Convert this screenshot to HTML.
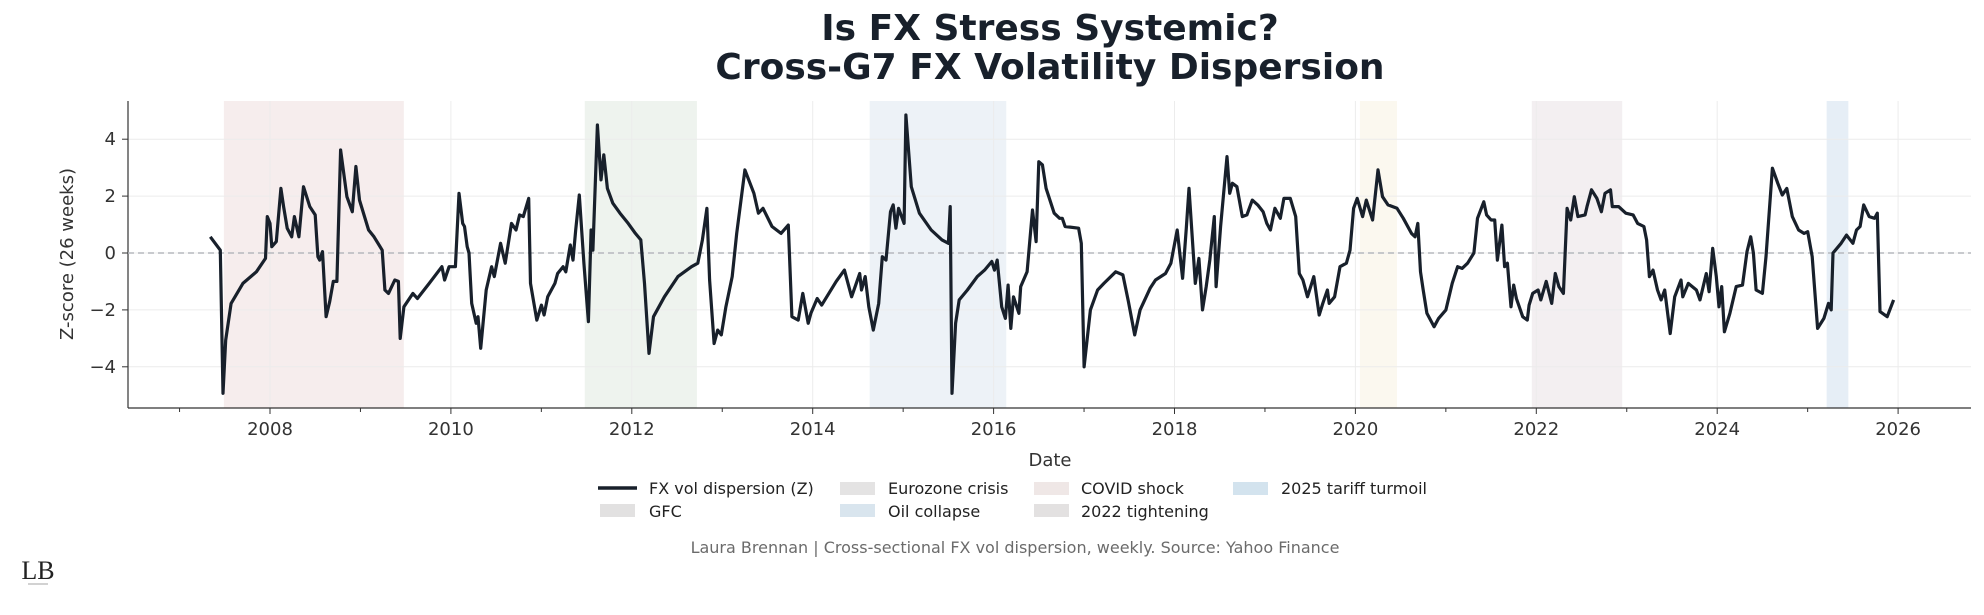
<!DOCTYPE html>
<html><head><meta charset="utf-8">
<style>
html,body{margin:0;padding:0;background:#fff;}
body{width:1984px;height:610px;overflow:hidden;font-family:"Liberation Sans","DejaVu Sans",sans-serif;}
svg text{font-family:"DejaVu Sans","Liberation Sans",sans-serif;}
</style></head>
<body>
<svg id="chart" width="1984" height="610" viewBox="0 0 1984 610">
<text x="1050" y="40" text-anchor="middle" font-size="36" font-weight="bold" fill="#18202b">Is FX Stress Systemic?</text>
<text x="1050" y="79" text-anchor="middle" font-size="36" font-weight="bold" fill="#18202b">Cross-G7 FX Volatility Dispersion</text>
<g id="bands"></g>
<g id="grid"></g>
<g id="axes"></g>
<line x1="128" x2="1971" y1="253" y2="253" stroke="#b5b8bd" stroke-width="1.5" stroke-dasharray="6,4"/>
<path id="series" fill="none" stroke="#18202b" stroke-width="3.2" stroke-linejoin="round"/>
<text transform="translate(73,254) rotate(-90)" text-anchor="middle" font-size="18" fill="#333">Z-score (26 weeks)</text>
<text x="1050" y="466" text-anchor="middle" font-size="18" fill="#333">Date</text>
<g font-size="16" fill="#222">
<line x1="598" x2="637" y1="488" y2="488" stroke="#18202b" stroke-width="3.5"/>
<text x="649" y="494">FX vol dispersion (Z)</text>
<rect x="600" y="504" width="35" height="13" fill="#e2e1e1"/>
<text x="649" y="517">GFC</text>
<rect x="840" y="482" width="35" height="13" fill="#e4e3e3"/>
<text x="888" y="494">Eurozone crisis</text>
<rect x="840" y="504" width="35" height="13" fill="#d9e5ee"/>
<text x="888" y="517">Oil collapse</text>
<rect x="1034" y="482" width="35" height="13" fill="#efe7e6"/>
<text x="1081" y="494">COVID shock</text>
<rect x="1034" y="504" width="35" height="13" fill="#e3e1e1"/>
<text x="1081" y="517">2022 tightening</text>
<rect x="1233" y="482" width="35" height="13" fill="#d3e3ee"/>
<text x="1281" y="494">2025 tariff turmoil</text>
</g>
<text x="1015" y="553" text-anchor="middle" font-size="16" fill="#6b6b6b">Laura Brennan | Cross-sectional FX vol dispersion, weekly. Source: Yahoo Finance</text>
<text x="38" y="579" text-anchor="middle" font-size="26" fill="#222" style="font-family:'Liberation Serif',serif">LB</text>
<line x1="28" x2="48" y1="584" y2="584" stroke="#888" stroke-width="0.8"/>
</svg>
<script>
const bandNames=["GFC","Eurozone crisis","Oil collapse","COVID shock","2022 tightening","2025 tariff turmoil"];
const bandStart=[2007.49,2011.48,2014.63,2020.05,2021.95,2025.21];
const bandEnd=[2009.48,2012.72,2016.14,2020.46,2022.95,2025.45];
const bandColors=["#f6eded","#eef3ee","#edf2f7","#fbf8ef","#f3eff1","#e6eef6"];
const yTicks=[-4,-2,0,2,4];
const xTickYears=[2008,2010,2012,2014,2016,2018,2020,2022,2024,2026];
const dates=[2007.34,2007.45,2007.48,2007.51,2007.57,2007.7,2007.85,2007.95,2007.97,2008.0,2008.02,2008.07,2008.12,2008.15,2008.19,2008.24,2008.27,2008.32,2008.37,2008.44,2008.5,2008.53,2008.55,2008.58,2008.62,2008.66,2008.7,2008.74,2008.78,2008.85,2008.91,2008.95,2008.99,2009.09,2009.15,2009.24,2009.27,2009.31,2009.38,2009.42,2009.44,2009.48,2009.58,2009.63,2009.76,2009.9,2009.93,2009.98,2010.05,2010.09,2010.13,2010.15,2010.18,2010.2,2010.23,2010.28,2010.3,2010.33,2010.39,2010.45,2010.48,2010.55,2010.6,2010.67,2010.72,2010.76,2010.8,2010.86,2010.88,2010.95,2011.0,2011.03,2011.07,2011.15,2011.18,2011.24,2011.27,2011.32,2011.35,2011.38,2011.42,2011.47,2011.52,2011.55,2011.57,2011.62,2011.66,2011.69,2011.73,2011.79,2011.87,2011.96,2012.04,2012.1,2012.14,2012.19,2012.24,2012.36,2012.51,2012.66,2012.73,2012.78,2012.83,2012.86,2012.91,2012.95,2012.99,2013.04,2013.11,2013.16,2013.25,2013.35,2013.4,2013.45,2013.55,2013.65,2013.73,2013.77,2013.84,2013.89,2013.95,2013.98,2014.05,2014.1,2014.26,2014.35,2014.43,2014.52,2014.54,2014.58,2014.62,2014.67,2014.73,2014.77,2014.81,2014.86,2014.89,2014.92,2014.95,2015.01,2015.03,2015.09,2015.18,2015.31,2015.43,2015.5,2015.52,2015.54,2015.58,2015.62,2015.71,2015.82,2015.9,2015.98,2016.01,2016.04,2016.09,2016.13,2016.16,2016.19,2016.22,2016.28,2016.3,2016.37,2016.43,2016.47,2016.5,2016.54,2016.58,2016.67,2016.73,2016.76,2016.79,2016.94,2016.97,2017.0,2017.07,2017.15,2017.22,2017.35,2017.43,2017.49,2017.56,2017.62,2017.73,2017.79,2017.9,2017.96,2018.03,2018.09,2018.13,2018.16,2018.23,2018.27,2018.31,2018.35,2018.39,2018.44,2018.46,2018.51,2018.58,2018.61,2018.64,2018.69,2018.75,2018.8,2018.86,2018.92,2018.98,2019.02,2019.06,2019.11,2019.17,2019.21,2019.28,2019.34,2019.38,2019.42,2019.47,2019.54,2019.6,2019.64,2019.69,2019.71,2019.77,2019.83,2019.9,2019.94,2019.98,2020.02,2020.08,2020.12,2020.19,2020.25,2020.3,2020.36,2020.46,2020.53,2020.62,2020.66,2020.69,2020.72,2020.75,2020.79,2020.87,2020.92,2021.0,2021.07,2021.13,2021.18,2021.24,2021.31,2021.35,2021.42,2021.45,2021.5,2021.54,2021.57,2021.62,2021.65,2021.68,2021.72,2021.75,2021.78,2021.85,2021.9,2021.92,2021.96,2022.02,2022.05,2022.11,2022.17,2022.21,2022.25,2022.3,2022.34,2022.38,2022.42,2022.46,2022.54,2022.56,2022.61,2022.67,2022.72,2022.76,2022.82,2022.84,2022.91,2022.99,2023.07,2023.12,2023.19,2023.22,2023.25,2023.29,2023.34,2023.38,2023.42,2023.48,2023.53,2023.6,2023.62,2023.68,2023.77,2023.81,2023.88,2023.91,2023.95,2023.99,2024.02,2024.05,2024.08,2024.14,2024.21,2024.28,2024.33,2024.37,2024.4,2024.43,2024.5,2024.54,2024.61,2024.67,2024.72,2024.77,2024.83,2024.9,2024.96,2025.0,2025.05,2025.11,2025.18,2025.23,2025.26,2025.28,2025.37,2025.43,2025.5,2025.54,2025.58,2025.62,2025.68,2025.74,2025.77,2025.8,2025.88,2025.95];
const values=[0.57,0.1,-4.93,-3.06,-1.77,-1.07,-0.66,-0.19,1.28,1.04,0.22,0.4,2.27,1.63,0.87,0.57,1.28,0.57,2.33,1.63,1.34,-0.13,-0.25,0.05,-2.24,-1.71,-1.0,-1.0,3.62,1.98,1.45,3.04,1.86,0.81,0.57,0.1,-1.3,-1.42,-0.95,-1.0,-3.0,-1.89,-1.42,-1.6,-1.07,-0.48,-0.95,-0.48,-0.48,2.1,1.04,0.93,0.22,0,-1.77,-2.47,-2.24,-3.35,-1.3,-0.48,-0.83,0.34,-0.36,1.04,0.81,1.34,1.28,1.92,-1.07,-2.36,-1.83,-2.18,-1.54,-1.07,-0.72,-0.48,-0.66,0.28,-0.25,0.81,2.04,-0.36,-2.41,0.81,0.1,4.5,2.57,3.45,2.27,1.75,1.4,1.04,0.69,0.46,-1.07,-3.53,-2.24,-1.54,-0.83,-0.48,-0.36,0.46,1.57,-0.95,-3.18,-2.71,-2.88,-1.89,-0.83,0.69,2.92,2.1,1.4,1.57,0.93,0.69,0.98,-2.24,-2.36,-1.42,-2.47,-2.12,-1.6,-1.83,-1.0,-0.6,-1.54,-0.72,-1.3,-0.83,-1.89,-2.71,-1.77,-0.13,-0.25,1.45,1.69,0.87,1.57,1.04,4.85,2.33,1.4,0.81,0.46,0.34,1.63,-4.93,-2.47,-1.65,-1.3,-0.83,-0.6,-0.3,-0.6,-0.25,-1.89,-2.3,-1.13,-2.65,-1.54,-2.12,-1.18,-0.66,1.51,0.4,3.21,3.1,2.27,1.4,1.22,1.22,0.93,0.87,0.34,-4.0,-2.0,-1.3,-1.07,-0.66,-0.77,-1.71,-2.88,-2.0,-1.24,-0.95,-0.72,-0.36,0.81,-0.89,0.87,2.27,-1.07,-0.19,-2.0,-1.18,-0.25,1.28,-1.18,0.93,3.39,2.1,2.45,2.33,1.28,1.34,1.86,1.69,1.45,1.04,0.81,1.57,1.22,1.92,1.92,1.28,-0.72,-0.95,-1.54,-0.83,-2.18,-1.77,-1.3,-1.77,-1.54,-0.48,-0.36,0.1,1.57,1.92,1.28,1.86,1.16,2.92,1.98,1.69,1.57,1.22,0.69,0.57,1.04,-0.66,-1.3,-2.12,-2.59,-2.3,-2.0,-1.07,-0.48,-0.54,-0.36,0,1.22,1.8,1.34,1.16,1.16,-0.25,0.98,-0.48,-0.36,-1.89,-1.13,-1.6,-2.24,-2.36,-1.83,-1.42,-1.3,-1.65,-1.0,-1.77,-0.72,-1.18,-1.42,1.57,1.16,1.98,1.28,1.34,1.63,2.22,1.92,1.45,2.1,2.22,1.63,1.63,1.4,1.34,1.04,0.93,0.46,-0.83,-0.6,-1.3,-1.65,-1.3,-2.83,-1.54,-0.95,-1.54,-1.07,-1.3,-1.65,-0.72,-1.36,0.16,-0.83,-1.89,-1.18,-2.77,-2.12,-1.18,-1.13,0.05,0.57,0,-1.3,-1.42,-0.13,2.98,2.45,2.04,2.27,1.28,0.81,0.69,0.75,-0.13,-2.65,-2.3,-1.77,-2.0,0,0.34,0.63,0.34,0.81,0.93,1.69,1.28,1.22,1.4,-2.06,-2.24,-1.65];

const L=128,R=1971,T=101,B=408;
function xs(yr){return 270+(yr-2008)*90.45;}
function ys(v){return 253-28.45*v;}
const NS="http://www.w3.org/2000/svg";
function mk(tag,attrs,parent){const e=document.createElementNS(NS,tag);for(const k in attrs)e.setAttribute(k,attrs[k]);parent.appendChild(e);return e;}
const bands=document.getElementById('bands'),grid=document.getElementById('grid'),axes=document.getElementById('axes');
bandNames.forEach((n,i)=>{
  const r=mk('rect',{x:xs(bandStart[i]),y:T,width:xs(bandEnd[i])-xs(bandStart[i]),height:B-T,fill:bandColors[i]},bands);
  
  
});
yTicks.forEach(v=>{
  const g=mk('line',{x1:L,x2:R,y1:ys(v),y2:ys(v),stroke:'#ececec','stroke-width':1},grid);
  
  
  const t=mk('line',{x1:L-6,x2:L,y1:ys(v),y2:ys(v),stroke:'#333','stroke-width':1},axes);
  
  
  const lb=mk('text',{x:L-12,y:ys(v)+6,'text-anchor':'end','font-size':18,fill:'#333'},axes);
  lb.textContent=(v<0?'\u2212':'')+Math.abs(v);
  
  
});
for(let yr=2007;yr<=2026;yr++){
  const major=xTickYears.includes(yr);
  if(major){
    const g=mk('line',{x1:xs(yr),x2:xs(yr),y1:T,y2:B,stroke:'#ececec','stroke-width':1},grid);
    
    
  }
  const t=mk('line',{x1:xs(yr),x2:xs(yr),y1:B,y2:B+(major?6:4),stroke:'#333','stroke-width':1},axes);
  
  
  if(major){
    const lb=mk('text',{x:xs(yr),y:B+27,'text-anchor':'middle','font-size':18,fill:'#333'},axes);
    lb.textContent=yr;
    
    
  }
}
const sl=mk('line',{x1:L,x2:L,y1:T,y2:B,stroke:'#333','stroke-width':1.2},axes);


const sb=mk('line',{x1:L,x2:R,y1:B,y2:B,stroke:'#333','stroke-width':1.2},axes);


let d='';
dates.forEach((yr,i)=>{d+=(i?'L':'M')+xs(yr).toFixed(1)+','+ys(values[i]).toFixed(1);});
document.getElementById('series').setAttribute('d',d);
</script>
</body></html>
